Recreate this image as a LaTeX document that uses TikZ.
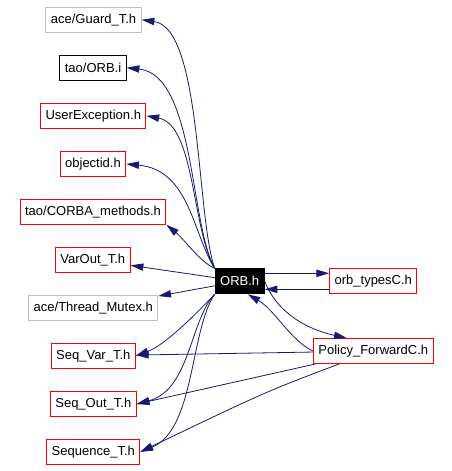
\documentclass[tikz,border=0pt]{standalone}
\usepackage{fontspec}
\setmainfont{Liberation Sans}
\usepackage{tikz}
\usetikzlibrary{arrows.meta, positioning}

\definecolor{edgeblue}{RGB}{25,25,112}
\definecolor{incred}{RGB}{255,0,0}
\definecolor{extgray}{RGB}{191,191,191}

\begin{document}
\begin{tikzpicture}[
        x=0.75pt, y=-0.75pt,
        >={Triangle[length=9.5pt, width=5.5pt]},
        file/.style={draw, rectangle, line width=0.75pt, minimum height=18.75pt,
            inner xsep=3.75pt, inner ysep=0pt, font=\fontsize{9.75}{11}\selectfont},
        inc/.style={file, draw=incred},
        ext/.style={file, draw=extgray},
        doc/.style={file, draw=black},
        self/.style={file, fill=black, text=white},
        e/.style={->, draw=edgeblue, line width=0.6pt}
    ]
        \useasboundingbox (0,0) rectangle (451,471);

        \node[ext] (guard)   at (93.5,19.8)  {ace/Guard\_T.h};
        \node[doc] (orbi)    at (93,67.7)    {tao/ORB.i};
        \node[inc] (userexc) at (93.3,115.8) {UserException.h};
        \node[inc] (objid)   at (93,164)     {objectid.h};
        \node[inc] (corba)   at (93,211.8)   {tao/CORBA\_methods.h};
        \node[inc] (varout)  at (92.8,259.8) {VarOut\_T.h};
        \node[ext] (mutex)   at (93.3,307.8) {ace/Thread\_Mutex.h};
        \node[inc] (seqvar)  at (93.3,355.8) {Seq\_Var\_T.h};
        \node[inc] (seqout)  at (93.3,404)   {Seq\_Out\_T.h};
        \node[inc] (seq)     at (93.3,451.8) {Sequence\_T.h};

        \node[self] (orb)      at (239.7,281.3) {ORB.h};
        \node[inc]  (orbtypes) at (373.3,281.3) {orb\_typesC.h};
        \node[inc]  (policy)   at (373.3,351)   {Policy\_ForwardC.h};

        % ORB.h nach oben
        \draw[e] (orb.north west) .. controls (196,215) and (202,28) .. (guard.east);
        \draw[e] (orb.north west) .. controls (190,225) and (195,75) .. (orbi.east);
        \draw[e] (orb.north west) .. controls (192,230) and (195,125) .. (userexc.east);
        \draw[e] (orb.north west) .. controls (193,235) and (190,170) .. (objid.east);
        \draw[e] (orb.north west) .. controls (200,262) and (185,240) .. (corba.south east);
        \draw[e] (orb) -- (varout);
        \draw[e] (orb) -- (mutex);

        % ORB.h nach unten
        \draw[e] (orb.south west) .. controls (195,315) and (165,345) .. (seqvar.east);
        \draw[e] (orb.south west) .. controls (190,320) and (190,390) .. (seqout.east);
        \draw[e] (orb.south west) .. controls (190,330) and (195,430) .. (seq.east);

        % ORB.h <-> orb_typesC.h
        \draw[e] ([yshift=6pt]orb.east) -- ([yshift=6pt]orbtypes.west);
        \draw[e] ([yshift=-6pt]orbtypes.west) -- ([yshift=-6pt]orb.east);

        % ORB.h <-> Policy_ForwardC.h
        \draw[e] (orb.east) .. controls (278,315) and (310,330) .. ([xshift=-20pt]policy.north);
        \draw[e] (policy.west) .. controls (290,340) and (275,310) .. ([xshift=6pt]orb.south);

        % Policy_ForwardC.h nach links
        \draw[e] (policy) -- (seqvar);
        \draw[e] (policy) -- (seqout.east);
        \draw[e] (policy) .. controls (265,392) .. (seq.east);
\end{tikzpicture}
\end{document}
